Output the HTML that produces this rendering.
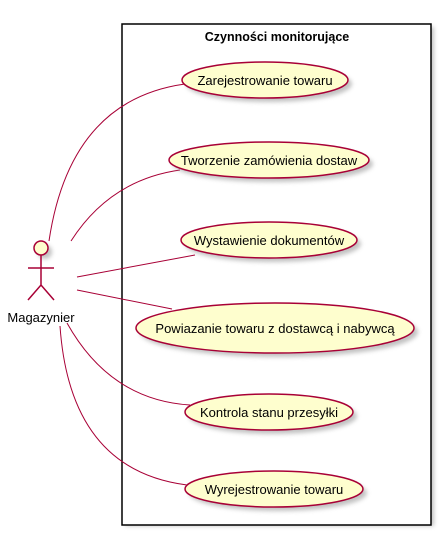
<!DOCTYPE html>
<html><head><meta charset="utf-8"><style>body{margin:0;background:#fff}</style></head><body>
<svg width="440" height="536" xmlns="http://www.w3.org/2000/svg" font-family="Liberation Sans, sans-serif">
<defs><filter id="s" x="-10%" y="-10%" width="130%" height="140%"><feGaussianBlur stdDeviation="2"/></filter></defs>
<rect x="125" y="27" width="309" height="499" fill="#999" filter="url(#s)" opacity="0.6"/>
<rect x="122" y="24" width="309" height="501" fill="#fff" stroke="#000" stroke-width="1.5"/>
<text x="277" y="41" font-size="12.5" font-weight="bold" text-anchor="middle">Czynności monitorujące</text>
<g fill="none" stroke="#A80036" stroke-width="1">
<path d="M49,241 Q70,100 185,84"/>
<path d="M71,241 Q110,180 180,170"/>
<path d="M77,277 L195,255"/>
<path d="M77,290 L172,309"/>
<path d="M67,323 Q110,400 190,405"/>
<path d="M60,326 Q70,470 187,485"/>
</g>
<g fill="#999" opacity="0.6" filter="url(#s)">
<ellipse cx="269" cy="84" rx="83" ry="18"/>
<ellipse cx="273" cy="164" rx="100" ry="18"/>
<ellipse cx="273" cy="244" rx="88" ry="18"/>
<ellipse cx="279" cy="332" rx="139" ry="25"/>
<ellipse cx="273" cy="416" rx="84" ry="18"/>
<ellipse cx="278" cy="493" rx="89" ry="18"/>
<circle cx="45" cy="252" r="7"/>
</g>
<g fill="#FEFECE" stroke="#A80036" stroke-width="1.5">
<ellipse cx="265" cy="80" rx="83" ry="18"/>
<ellipse cx="269" cy="160" rx="100" ry="18"/>
<ellipse cx="269" cy="240" rx="88" ry="18"/>
<ellipse cx="275" cy="328" rx="139" ry="25"/>
<ellipse cx="269" cy="412" rx="84" ry="18"/>
<ellipse cx="274" cy="489" rx="89" ry="18"/>
<circle cx="41" cy="248" r="7"/>
</g>
<g stroke="#A80036" stroke-width="1.5" fill="none">
<path d="M41,255 V285 M28,268 H54 M28,300 L41,285 L54,300"/>
</g>
<g font-size="13" text-anchor="middle" fill="#000">
<text x="265" y="85">Zarejestrowanie towaru</text>
<text x="269" y="165">Tworzenie zamówienia dostaw</text>
<text x="269" y="245">Wystawienie dokumentów</text>
<text x="275" y="333">Powiazanie towaru z dostawcą i nabywcą</text>
<text x="269" y="417">Kontrola stanu przesyłki</text>
<text x="274" y="494">Wyrejestrowanie towaru</text>
<text x="41" y="322">Magazynier</text>
</g>
</svg>
</body></html>
